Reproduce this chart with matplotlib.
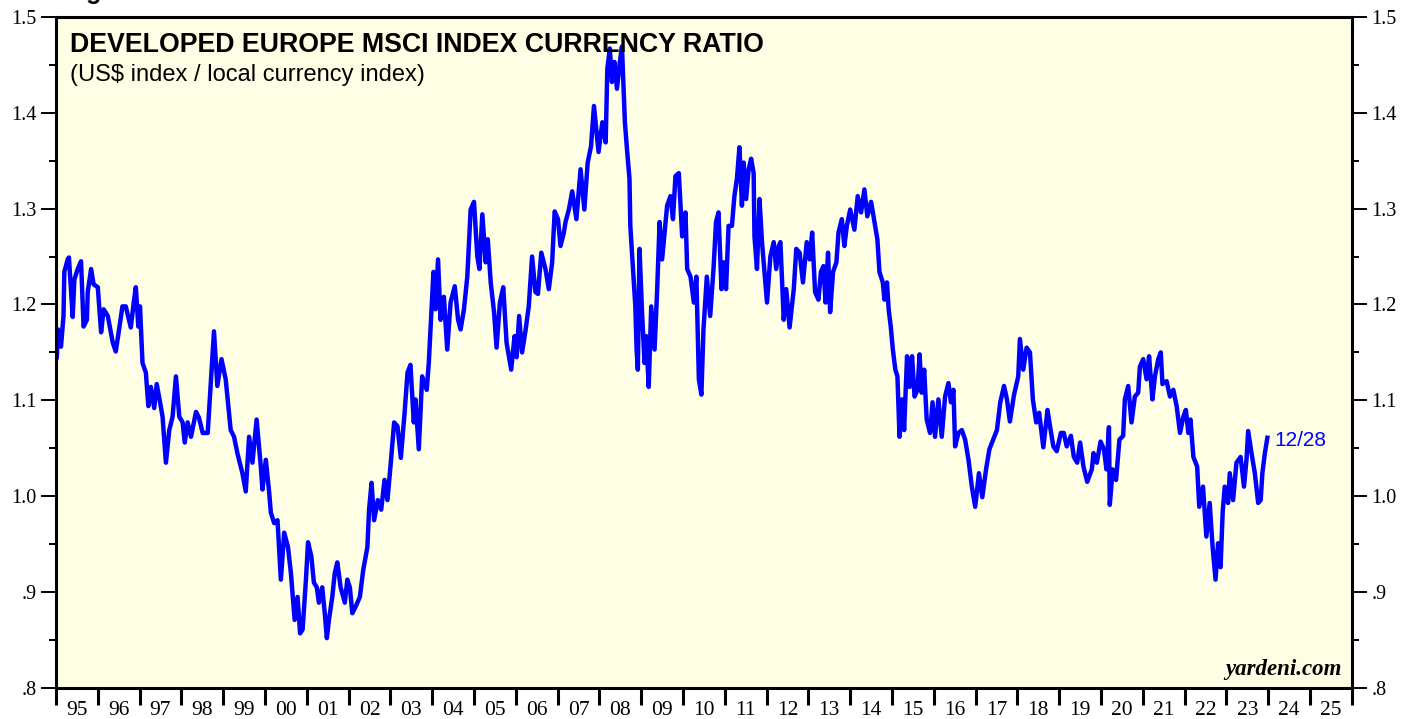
import matplotlib
import matplotlib.pyplot as plt
import numpy as np

matplotlib.use('Agg')

# values (decimal year, ratio)
years = [
    1995.02, 1995.05, 1995.12, 1995.18, 1995.20, 1995.28, 1995.31, 1995.40, 1995.44, 1995.52,
    1995.60, 1995.66, 1995.74, 1995.76, 1995.84, 1995.90, 1996.00, 1996.08, 1996.14, 1996.24,
    1996.36, 1996.43, 1996.51, 1996.59, 1996.67, 1996.79, 1996.86, 1996.91, 1996.97, 1997.01,
    1997.07, 1997.15, 1997.21, 1997.27, 1997.35, 1997.41, 1997.49, 1997.55, 1997.63, 1997.71,
    1997.79, 1997.87, 1997.95, 1998.03, 1998.08, 1998.15, 1998.23, 1998.35, 1998.42, 1998.51,
    1998.63, 1998.70, 1998.78, 1998.86, 1998.96, 1999.06, 1999.18, 1999.26, 1999.34, 1999.46,
    1999.54, 1999.62, 1999.70, 1999.80, 1999.90, 1999.94, 2000.02, 2000.10, 2000.14, 2000.22,
    2000.30, 2000.38, 2000.46, 2000.55, 2000.62, 2000.71, 2000.78, 2000.84, 2000.90, 2000.98,
    2001.03, 2001.11, 2001.17, 2001.24, 2001.29, 2001.37, 2001.43, 2001.48, 2001.53, 2001.61,
    2001.67, 2001.73, 2001.81, 2001.91, 2001.97, 2002.03, 2002.09, 2002.17, 2002.27, 2002.35,
    2002.45, 2002.49, 2002.55, 2002.61, 2002.70, 2002.78, 2002.86, 2002.93, 2003.01, 2003.09,
    2003.17, 2003.25, 2003.34, 2003.41, 2003.48, 2003.56, 2003.60, 2003.68, 2003.76, 2003.87,
    2003.92, 2004.03, 2004.08, 2004.14, 2004.20, 2004.28, 2004.36, 2004.44, 2004.54, 2004.62,
    2004.68, 2004.76, 2004.84, 2004.92, 2005.00, 2005.08, 2005.13, 2005.20, 2005.28, 2005.33,
    2005.40, 2005.48, 2005.54, 2005.62, 2005.70, 2005.78, 2005.89, 2005.97, 2006.02, 2006.08,
    2006.15, 2006.23, 2006.31, 2006.39, 2006.47, 2006.53, 2006.61, 2006.71, 2006.79, 2006.87,
    2006.93, 2007.01, 2007.07, 2007.15, 2007.19, 2007.27, 2007.35, 2007.45, 2007.55, 2007.64,
    2007.72, 2007.80, 2007.87, 2007.98, 2008.07, 2008.15, 2008.19, 2008.25, 2008.30, 2008.36,
    2008.42, 2008.49, 2008.54, 2008.61, 2008.66, 2008.72, 2008.74, 2008.82, 2008.86, 2008.89,
    2008.92, 2008.96, 2009.02, 2009.08, 2009.12, 2009.18, 2009.24, 2009.32, 2009.38, 2009.44,
    2009.50, 2009.56, 2009.62, 2009.70, 2009.76, 2009.82, 2009.90, 2009.98, 2010.06, 2010.10,
    2010.18, 2010.26, 2010.32, 2010.38, 2010.44, 2010.49, 2010.57, 2010.65, 2010.73, 2010.79,
    2010.85, 2010.92, 2010.97, 2011.03, 2011.09, 2011.17, 2011.23, 2011.29, 2011.35, 2011.41,
    2011.45, 2011.51, 2011.57, 2011.63, 2011.69, 2011.71, 2011.77, 2011.83, 2011.89, 2011.95,
    2012.01, 2012.09, 2012.17, 2012.23, 2012.29, 2012.33, 2012.41, 2012.47, 2012.55, 2012.65,
    2012.71, 2012.79, 2012.87, 2012.96, 2013.03, 2013.09, 2013.16, 2013.24, 2013.30, 2013.36,
    2013.41, 2013.47, 2013.52, 2013.59, 2013.67, 2013.72, 2013.80, 2013.86, 2013.92, 2014.00,
    2014.10, 2014.18, 2014.26, 2014.34, 2014.41, 2014.50, 2014.57, 2014.65, 2014.70, 2014.78,
    2014.82, 2014.88, 2014.92, 2014.97, 2015.02, 2015.08, 2015.13, 2015.18, 2015.24, 2015.29,
    2015.36, 2015.42, 2015.48, 2015.54, 2015.61, 2015.66, 2015.71, 2015.77, 2015.83, 2015.91,
    2015.97, 2016.03, 2016.11, 2016.19, 2016.27, 2016.35, 2016.41, 2016.47, 2016.51, 2016.59,
    2016.67, 2016.75, 2016.83, 2016.91, 2016.99, 2017.08, 2017.16, 2017.25, 2017.33, 2017.42,
    2017.51, 2017.59, 2017.68, 2017.75, 2017.82, 2017.92, 2018.02, 2018.06, 2018.14, 2018.22,
    2018.30, 2018.37, 2018.45, 2018.52, 2018.62, 2018.72, 2018.78, 2018.86, 2018.94, 2019.04,
    2019.11, 2019.18, 2019.28, 2019.35, 2019.43, 2019.50, 2019.58, 2019.67, 2019.78, 2019.82,
    2019.90, 2019.99, 2020.07, 2020.13, 2020.19, 2020.21, 2020.28, 2020.36, 2020.44, 2020.53,
    2020.57, 2020.65, 2020.73, 2020.81, 2020.89, 2020.93, 2021.01, 2021.09, 2021.15, 2021.23,
    2021.29, 2021.37, 2021.43, 2021.47, 2021.57, 2021.65, 2021.73, 2021.81, 2021.89, 2021.97,
    2022.03, 2022.09, 2022.14, 2022.21, 2022.30, 2022.35, 2022.44, 2022.52, 2022.60, 2022.67,
    2022.74, 2022.80, 2022.86, 2022.91, 2022.96, 2023.04, 2023.08, 2023.16, 2023.24, 2023.34,
    2023.42, 2023.48, 2023.52, 2023.60, 2023.68, 2023.76, 2023.82, 2023.86, 2023.92, 2023.98,
]
ratio = [
    1.145, 1.174, 1.156, 1.188, 1.234, 1.247, 1.249, 1.187, 1.226, 1.237,
    1.245, 1.177, 1.184, 1.213, 1.237, 1.221, 1.218, 1.171, 1.195, 1.188,
    1.160, 1.151, 1.174, 1.198, 1.198, 1.176, 1.202, 1.218, 1.177, 1.198,
    1.139, 1.129, 1.094, 1.114, 1.092, 1.117, 1.098, 1.083, 1.035, 1.069,
    1.083, 1.125, 1.083, 1.077, 1.056, 1.077, 1.062, 1.088, 1.082, 1.066,
    1.066, 1.115, 1.172, 1.115, 1.143, 1.122, 1.069, 1.062, 1.045, 1.024,
    1.005, 1.062, 1.035, 1.080, 1.031, 1.007, 1.038, 1.004, 0.983, 0.972,
    0.975, 0.913, 0.962, 0.947, 0.920, 0.871, 0.895, 0.857, 0.861, 0.913,
    0.952, 0.937, 0.910, 0.905, 0.889, 0.905, 0.878, 0.852, 0.871, 0.895,
    0.920, 0.931, 0.905, 0.889, 0.913, 0.905, 0.878, 0.885, 0.895, 0.923,
    0.947, 0.986, 1.014, 0.975, 0.996, 0.986, 1.017, 0.996, 1.035, 1.077,
    1.073, 1.040, 1.087, 1.129, 1.137, 1.077, 1.101, 1.049, 1.125, 1.111,
    1.140, 1.234, 1.195, 1.247, 1.184, 1.208, 1.153, 1.202, 1.219, 1.184,
    1.174, 1.195, 1.229, 1.299, 1.307, 1.250, 1.237, 1.294, 1.244, 1.268,
    1.223, 1.192, 1.155, 1.202, 1.218, 1.160, 1.132, 1.167, 1.145, 1.188,
    1.150, 1.172, 1.198, 1.250, 1.213, 1.211, 1.254, 1.237, 1.216, 1.244,
    1.297, 1.289, 1.261, 1.275, 1.286, 1.299, 1.318, 1.289, 1.341, 1.299,
    1.348, 1.365, 1.407, 1.359, 1.390, 1.369, 1.446, 1.467, 1.432, 1.453,
    1.425, 1.453, 1.469, 1.390, 1.362, 1.331, 1.282, 1.226, 1.198, 1.153,
    1.132, 1.258, 1.192, 1.139, 1.167, 1.114, 1.198, 1.153, 1.213, 1.286,
    1.247, 1.275, 1.303, 1.313, 1.289, 1.334, 1.337, 1.271, 1.296, 1.237,
    1.229, 1.202, 1.229, 1.122, 1.106, 1.174, 1.229, 1.188, 1.237, 1.286,
    1.296, 1.216, 1.244, 1.216, 1.282, 1.282, 1.313, 1.331, 1.364, 1.303,
    1.348, 1.310, 1.341, 1.352, 1.337, 1.271, 1.237, 1.310, 1.265, 1.234,
    1.202, 1.250, 1.265, 1.237, 1.261, 1.265, 1.184, 1.216, 1.176, 1.216,
    1.258, 1.254, 1.223, 1.265, 1.247, 1.275, 1.213, 1.205, 1.234, 1.240,
    1.202, 1.254, 1.192, 1.234, 1.244, 1.275, 1.289, 1.261, 1.282, 1.299,
    1.278, 1.313, 1.296, 1.320, 1.292, 1.307, 1.289, 1.268, 1.234, 1.223,
    1.205, 1.223, 1.195, 1.177, 1.153, 1.132, 1.125, 1.062, 1.101, 1.069,
    1.146, 1.114, 1.146, 1.104, 1.111, 1.148, 1.108, 1.132, 1.080, 1.066,
    1.098, 1.062, 1.101, 1.062, 1.104, 1.118, 1.098, 1.111, 1.052, 1.066,
    1.069, 1.059, 1.038, 1.010, 0.989, 1.024, 0.999, 1.028, 1.049, 1.059,
    1.069, 1.098, 1.115, 1.101, 1.078, 1.106, 1.125, 1.164, 1.132, 1.155,
    1.150, 1.101, 1.077, 1.087, 1.051, 1.090, 1.073, 1.052, 1.047, 1.066,
    1.066, 1.052, 1.063, 1.041, 1.035, 1.056, 1.031, 1.015, 1.028, 1.045,
    1.035, 1.057, 1.049, 1.028, 1.072, 0.991, 1.028, 1.017, 1.059, 1.063,
    1.101, 1.115, 1.077, 1.104, 1.108, 1.135, 1.143, 1.122, 1.146, 1.101,
    1.125, 1.143, 1.150, 1.117, 1.120, 1.104, 1.111, 1.094, 1.066, 1.083,
    1.090, 1.066, 1.080, 1.041, 1.031, 0.989, 1.010, 0.958, 0.993, 0.947,
    0.913, 0.951, 0.926, 0.983, 1.010, 0.993, 1.024, 0.996, 1.035, 1.041,
    1.010, 1.038, 1.068, 1.045, 1.024, 0.993, 0.996, 1.024, 1.045, 1.061,
]
year_labels = ["95", "96", "97", "98", "99", "00", "01", "02", "03", "04", "05",
               "06", "07", "08", "09", "10", "11", "12", "13", "14", "15", "16",
               "17", "18", "19", "20", "21", "22", "23", "24", "25"]
y_ticks = [0.8, 0.9, 1.0, 1.1, 1.2, 1.3, 1.4, 1.5]
y_tick_labels = [".8", ".9", "1.0", "1.1", "1.2", "1.3", "1.4", "1.5"]
last_label = "12/28"

fig = plt.figure(figsize=(14.17, 7.19), dpi=100)
ax = fig.add_axes([0.0395, 0.0431, 0.9145, 0.9335])
ax.set_facecolor('#fefee4')

ax.plot(years, ratio, color='#0000ff', linewidth=3.2, solid_joinstyle='round')

ax.set_xlim(1995, 2026)
ax.set_ylim(0.8, 1.5)

# y axis on both sides
ax.set_yticks(y_ticks)
ax.set_yticklabels(y_tick_labels)
ax.set_yticks(np.arange(0.85, 1.5, 0.1), minor=True)
ax.tick_params(axis='y', which='major', direction='out', length=11, width=1.4,
               labelsize=14.5, pad=3, left=True, right=True, labelleft=True, labelright=True)
ax.tick_params(axis='y', which='minor', direction='out', length=5, width=1.4,
               left=True, right=True)

# x axis: ticks at year boundaries, labels in the middle of each year
ax.set_xticks(np.arange(1995, 2027))
ax.set_xticklabels([])
ax.set_xticks(np.arange(1995.5, 2026), minor=True)
ax.set_xticklabels(year_labels, minor=True)
ax.tick_params(axis='x', which='major', direction='out', length=12, width=2.2)
ax.tick_params(axis='x', which='minor', length=0, labelsize=15.5, pad=9)

for lab in ax.xaxis.get_ticklabels(which='minor'):
    lab.set_fontfamily('Liberation Serif')
for lab in ax.yaxis.get_majorticklabels():
    lab.set_fontfamily('Liberation Serif')

for sp in ax.spines.values():
    sp.set_linewidth(2.2)

ax.text(0.011, 0.977, "DEVELOPED EUROPE MSCI INDEX CURRENCY RATIO", transform=ax.transAxes,
        fontsize=19.3, fontweight='bold', family='Liberation Sans', va='top', ha='left')
ax.text(0.011, 0.93, "(US$ index / local currency index)", transform=ax.transAxes,
        fontsize=17, family='Liberation Sans', va='top', ha='left')
ax.text(years[-1] + 0.16, ratio[-1] - 0.003, last_label, color='#0000ff', fontsize=15,
        family='Liberation Sans', va='center', ha='left')
ax.text(0.992, 0.012, "yardeni.com", transform=ax.transAxes, fontsize=16.5,
        fontweight='bold', fontstyle='italic', family='Liberation Serif', ha='right', va='bottom')

fig.text(0.045, 1.002, "Figure 1.", fontsize=18, fontweight='bold', family='Liberation Sans',
         va='baseline', ha='left')

fig.savefig('out.png', dpi=100, facecolor='white')
